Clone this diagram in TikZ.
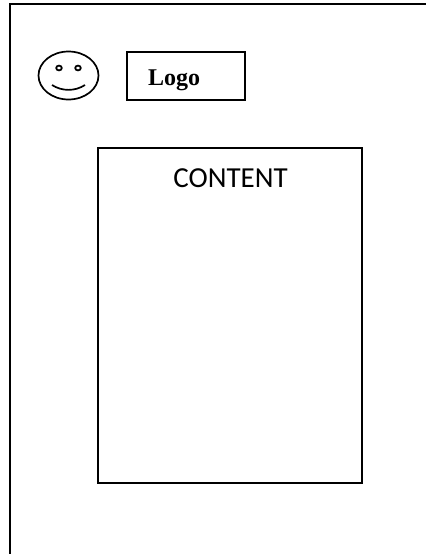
\documentclass[tikz,border=0pt]{standalone}
\usepackage{fontspec}
\usetikzlibrary{shapes.geometric}
\setmainfont{Carlito}
\newfontfamily\serifbold{Liberation Serif}[BoldFont={Liberation Serif Bold}]
\begin{document}
\begin{tikzpicture}[x=1pt,y=-1pt,
  ink/.style={draw=black,line width=2pt},
  thin ink/.style={draw=black,line width=1.7pt}]
\useasboundingbox (0,0) rectangle (426,554);
\coordinate (fa) at (9.5,554);
\coordinate (fb) at (9.5,3.5);
\coordinate (fc) at (426,3.5);
\draw[ink] (fa) -- (fb) -- (fc);
\node[ink,minimum width=118pt,minimum height=48.5pt,inner sep=0pt,outer sep=0pt,anchor=north west] (logo) at (127,51.5) {};
\node[anchor=base west,inner sep=0pt,font=\serifbold\bfseries\fontsize{24}{28}\selectfont] (logotext) at (148,85) {Logo};
\node[ink,minimum width=264pt,minimum height=335pt,inner sep=0pt,outer sep=0pt,anchor=north west] (content) at (98,148) {};
\node[anchor=base,inner sep=0pt,font=\fontsize{29}{34}\selectfont] (contenttext) at (230.5,187) {CONTENT};
\node[thin ink,ellipse,minimum width=60pt,minimum height=48pt,inner sep=0pt,outer sep=0pt] (face) at (68.5,75.5) {};
\draw[thin ink] (59,68) ellipse (2.8pt and 2.4pt);
\draw[thin ink] (78,68) ellipse (2.8pt and 2.4pt);
\draw[thin ink] (52,85) .. controls (62,91.5) and (75,91.5) .. (85,85);
\end{tikzpicture}
\end{document}
